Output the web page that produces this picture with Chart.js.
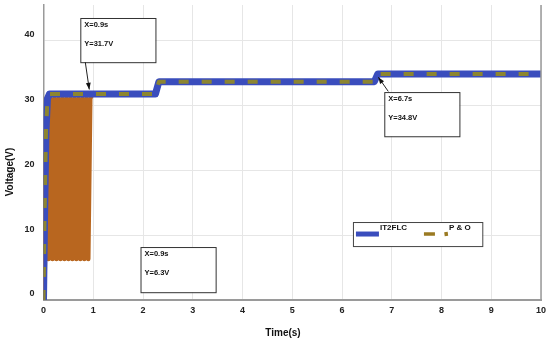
<!DOCTYPE html>
<html>
<head>
<meta charset="utf-8">
<script src="https://cdn.jsdelivr.net/npm/chart.js@4.4.1/dist/chart.umd.min.js"></script>
<style>
    html, body { margin: 0; padding: 0; background: #fff; }
    #wrap { width: 550px; height: 346px; }
</style>
</head>
<body>
<div id="wrap"><canvas id="voltageChart"></canvas></div>
<script>
// tick labels
const xTicks = [0, 1, 2, 3, 4, 5, 6, 7, 8, 9, 10];
const yTicks = [0, 10, 20, 30, 40];

// IT2FLC output voltage
const it2Time = [0, 0.02, 0.05, 0.08, 0.12, 2.25, 2.32, 6.65, 6.72, 10];
const it2Volt = [0, 12, 26, 31.0, 31.7, 31.7, 33.6, 33.6, 34.8, 34.8];

// P & O settled part (dashed over IT2FLC)
const poTime = [0, 0.02, 0.05, 0.08, 0.12, 2.25, 2.32, 6.65, 6.72, 10];
const poVolt = [0, 12, 26, 31.0, 31.7, 31.7, 33.6, 33.6, 34.8, 34.8];

// P & O start-up oscillation
const oscTime = [0.02, 0.06, 0.10, 0.14, 0.18, 0.22, 0.26, 0.30, 0.34, 0.38, 0.42, 0.46,
    0.50, 0.54, 0.58, 0.62, 0.66, 0.70, 0.74, 0.78, 0.82, 0.86, 0.90, 0.94, 0.97];
const oscVolt = [0, 31, 6.3, 31, 6.3, 31, 6.3, 31, 6.3, 31, 6.3, 31,
    6.3, 31, 6.3, 31, 6.3, 31, 6.3, 31, 6.3, 31, 6.3, 31, 31.5];

const seriesNames = ['IT2FLC', 'P & O'];

const toPoints = (xs, ys) => xs.map((x, i) => ({ x: x, y: ys[i] }));

// data tip boxes (data units)
const tips = [
    { lines: ['X=0.9s', 'Y=31.7V'], x0: 0.74, x1: 2.25, y0: 43.4, y1: 36.6, from: [0.84, 36.6], to: [0.92, 32.4] },
    { lines: ['X=6.7s', 'Y=34.8V'], x0: 6.85, x1: 8.36, y0: 32.0, y1: 25.2, from: [6.93, 32.1], to: [6.73, 34.3] },
    { lines: ['X=0.9s', 'Y=6.3V'], x0: 1.95, x1: 3.46, y0: 8.15, y1: 1.2 }
];

const boldFont = (size) => 'bold ' + size + 'px "Liberation Sans", Arial, sans-serif';

const extrasPlugin = {
    id: 'extras',
    afterDatasetsDraw(chart) {
        const ctx = chart.ctx,
            xs = chart.scales.x,
            ys = chart.scales.y,
            area = chart.chartArea;

        ctx.save();
        // right frame edge
        ctx.strokeStyle = '#9a9a9a';
        ctx.lineWidth = 1.5;
        ctx.beginPath();
        ctx.moveTo(area.right, area.top);
        ctx.lineTo(area.right, area.bottom);
        ctx.stroke();

        // tip boxes
        tips.forEach(function (t) {
            const l = xs.getPixelForValue(t.x0), r = xs.getPixelForValue(t.x1),
                top = ys.getPixelForValue(t.y0), bot = ys.getPixelForValue(t.y1);
            ctx.fillStyle = '#fff';
            ctx.fillRect(l, top, r - l, bot - top);
            ctx.strokeStyle = '#333';
            ctx.lineWidth = 1;
            ctx.strokeRect(l + 0.5, top + 0.5, r - l, bot - top);
            ctx.fillStyle = '#111';
            ctx.font = boldFont(7.5);
            ctx.textBaseline = 'middle';
            ctx.textAlign = 'left';
            ctx.fillText(t.lines[0], l + 4, top + 7);
            ctx.fillText(t.lines[1], l + 4, top + 26);
            if (t.from) {
                const fx = xs.getPixelForValue(t.from[0]), fy = ys.getPixelForValue(t.from[1]),
                    tx = xs.getPixelForValue(t.to[0]), ty = ys.getPixelForValue(t.to[1]);
                const ang = Math.atan2(ty - fy, tx - fx);
                ctx.strokeStyle = '#222';
                ctx.beginPath();
                ctx.moveTo(fx, fy);
                ctx.lineTo(tx, ty);
                ctx.stroke();
                ctx.fillStyle = '#111';
                ctx.beginPath();
                ctx.moveTo(tx, ty);
                ctx.lineTo(tx - 7 * Math.cos(ang - 0.35), ty - 7 * Math.sin(ang - 0.35));
                ctx.lineTo(tx - 7 * Math.cos(ang + 0.35), ty - 7 * Math.sin(ang + 0.35));
                ctx.closePath();
                ctx.fill();
            }
        });

        // legend box
        const lx = xs.getPixelForValue(6.22), rx = xs.getPixelForValue(8.82),
            ty = ys.getPixelForValue(12.0), by = ys.getPixelForValue(8.3);
        ctx.fillStyle = '#fff';
        ctx.fillRect(lx, ty, rx - lx, by - ty);
        ctx.strokeStyle = '#444';
        ctx.lineWidth = 1;
        ctx.strokeRect(lx + 0.5, ty + 0.5, rx - lx, by - ty);
        ctx.lineCap = 'butt';
        ctx.strokeStyle = '#3a4dbd';
        ctx.lineWidth = 5;
        ctx.beginPath();
        ctx.moveTo(lx + 3, ty + 12);
        ctx.lineTo(lx + 26, ty + 12);
        ctx.stroke();
        ctx.strokeStyle = '#9a7a22';
        ctx.lineWidth = 3.5;
        ctx.beginPath();
        ctx.moveTo(lx + 71, ty + 12);
        ctx.lineTo(lx + 82, ty + 12);
        ctx.moveTo(lx + 93, ty + 10);
        ctx.lineTo(lx + 93.5, ty + 14);
        ctx.stroke();
        ctx.fillStyle = '#111';
        ctx.font = boldFont(8);
        ctx.textBaseline = 'middle';
        ctx.fillText(seriesNames[0], lx + 27, ty + 6);
        ctx.fillText(seriesNames[1], lx + 96, ty + 6);

        // axis titles
        ctx.font = boldFont(10);
        ctx.textAlign = 'center';
        ctx.fillText('Time(s)', 283, 333);
        ctx.translate(10, 172);
        ctx.rotate(-Math.PI / 2);
        ctx.fillText('Voltage(V)', 0, 0);
        ctx.restore();
    }
};

new Chart(document.getElementById('voltageChart').getContext('2d'), {
    type: 'line',
    data: {
        datasets: [{
            label: 'P & O osc',
            data: toPoints(oscTime, oscVolt),
            borderColor: '#b8661f',
            borderWidth: 4.5,
            order: 3
        }, {
            label: seriesNames[0],
            data: toPoints(it2Time, it2Volt),
            borderColor: '#3a4dbd',
            borderWidth: 7,
            order: 2
        }, {
            label: seriesNames[1],
            data: toPoints(poTime, poVolt),
            borderColor: '#8c8530',
            borderWidth: 4,
            borderDash: [10, 13],
            order: 1
        }]
    },
    options: {
        responsive: true,
        maintainAspectRatio: false,
        animation: false,
        parsing: false,
        elements: {
            point: { radius: 0 },
            line: { tension: 0, borderCapStyle: 'butt', borderJoinStyle: 'round' }
        },
        layout: { padding: { top: 5, right: 9, left: 0, bottom: 0 } },
        plugins: {
            legend: { display: false },
            tooltip: { enabled: false }
        },
        scales: {
            x: {
                type: 'linear',
                min: 0,
                max: 10,
                afterBuildTicks: function (axis) {
                    axis.ticks = xTicks.map((v) => ({ value: v }));
                },
                afterFit: function (axis) {
                    axis.height = 46;
                    axis.paddingLeft = 0;
                    axis.paddingRight = 0;
                },
                ticks: {
                    color: '#222',
                    padding: 5,
                    maxRotation: 0,
                    font: { family: '"Liberation Sans", Arial, sans-serif', size: 9, weight: 'bold' }
                },
                grid: { color: '#e6e6e6', drawTicks: false },
                border: { color: '#9a9a9a', width: 2 }
            },
            y: {
                type: 'linear',
                min: 0,
                max: 45.4,
                afterBuildTicks: function (axis) {
                    axis.ticks = yTicks.map((v) => ({ value: v }));
                },
                afterFit: function (axis) {
                    axis.width = 43.5;
                    axis.paddingTop = 0;
                    axis.paddingBottom = 0;
                },
                ticks: {
                    color: '#222',
                    padding: 9,
                    labelOffset: -6,
                    font: { family: '"Liberation Sans", Arial, sans-serif', size: 9, weight: 'bold' }
                },
                grid: { color: '#e6e6e6', drawTicks: false },
                border: { color: '#9a9a9a', width: 1.5 }
            }
        }
    },
    plugins: [extrasPlugin]
});
</script>
</body>
</html>
